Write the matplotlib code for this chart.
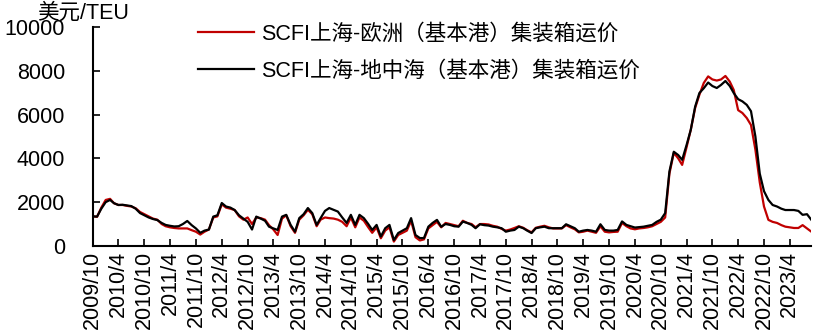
import numpy as np
import pandas as pd
import matplotlib.pyplot as plt
import matplotlib.dates as mdates

plt.rcParams['font.family'] = ['Liberation Sans', 'Noto Sans CJK SC', 'DejaVu Sans']

# 月度数据，2009/10 起
dates = pd.date_range('2009-10-01', periods=168, freq='MS')

europe = [
    1350, 1330, 1750, 2100, 2150, 1950, 1870, 1870, 1830, 1800,
    1720, 1550, 1450, 1350, 1250, 1200, 1000, 900, 850, 820,
    800, 800, 800, 720, 650, 520, 650, 750, 1300, 1350,
    1900, 1750, 1700, 1640, 1350, 1200, 1300, 1000, 1300, 1270,
    1200, 950, 750, 500, 1250, 1400, 900, 600, 1200, 1400,
    1650, 1450, 900, 1200, 1300, 1270, 1250, 1200, 1100, 900,
    1300, 850, 1300, 1150, 850, 600, 850, 350, 700, 850,
    200, 500, 600, 700, 1150, 400, 250, 300, 800, 950,
    1100, 850, 1050, 1000, 950, 900, 1150, 1050, 1000, 850,
    1000, 1000, 980, 920, 880, 780, 700, 750, 820, 900,
    830, 720, 620, 830, 880, 920, 850, 800, 800, 800,
    950, 850, 760, 620, 650, 700, 650, 600, 900, 650,
    620, 640, 650, 1050, 900, 800, 760, 800, 820, 850,
    900, 1000, 1100, 1300, 3300, 4250, 4000, 3700, 4500, 5300,
    6300, 6900, 7440, 7740, 7600, 7550, 7600, 7760, 7500, 7120,
    6200, 6070, 5840, 5520, 4400, 2900, 1800, 1190, 1100, 1050,
    950, 880, 850, 820, 820, 950, 800, 650,
]

mediterranean = [
    1350, 1340, 1700, 2000, 2100, 1950, 1870, 1880, 1850, 1820,
    1700, 1500, 1400, 1300, 1230, 1180, 1050, 960, 920, 890,
    900, 1000, 1140, 950, 800, 600, 700, 750, 1340, 1400,
    1960, 1800, 1750, 1640, 1400, 1250, 1100, 750, 1340, 1250,
    1150, 880, 800, 730, 1340, 1420, 960, 650, 1270, 1450,
    1730, 1500, 960, 1270, 1600, 1730, 1650, 1570, 1300, 1050,
    1420, 960, 1420, 1270, 1000, 730, 960, 430, 810, 960,
    270, 590, 700, 810, 1270, 500, 360, 360, 880, 1050,
    1190, 880, 1000, 960, 900, 880, 1110, 1050, 960, 810,
    990, 950, 930, 880, 850, 810, 650, 700, 730, 880,
    810, 700, 590, 810, 850, 880, 810, 810, 810, 810,
    990, 900, 810, 650, 700, 730, 700, 650, 990, 730,
    700, 700, 730, 1120, 960, 900, 840, 860, 880, 920,
    960, 1100, 1200, 1500, 3400, 4300, 4150, 3930, 4600, 5300,
    6360, 6980, 7200, 7460, 7300, 7210, 7350, 7530, 7300, 6980,
    6700, 6600, 6440, 6150, 5000, 3300, 2500, 2100, 1870, 1800,
    1700, 1640, 1640, 1640, 1600, 1420, 1450, 1190,
]

fig = plt.figure(figsize=(8.13, 3.36), dpi=100)
ax = fig.add_axes([0.114, 0.268, 0.884, 0.652])

ax.plot(dates, europe, color='#C00000', lw=1.6, label='SCFI上海-欧洲（基本港）集装箱运价')
ax.plot(dates, mediterranean, color='black', lw=1.6, label='SCFI上海-地中海（基本港）集装箱运价')

ax.set_ylim(0, 10000)
ax.set_yticks(np.arange(0, 10001, 2000))
ax.set_xlim(dates[0], dates[-1])

ticks = pd.date_range('2009-10-01', '2023-04-01', freq='6MS')
ax.set_xticks(ticks)
ax.set_xticklabels([f'{d.year}/{d.month}' for d in ticks], rotation=90)

for s in ['top', 'right']:
    ax.spines[s].set_visible(False)
for s in ['left', 'bottom']:
    ax.spines[s].set_linewidth(1.5)
ax.tick_params(axis='both', direction='in', length=5, width=1.2, labelsize=15.5)
ax.tick_params(axis='y', pad=20)

fig.text(0.045, 0.96, '美元/TEU', fontsize=15.5, va='center')

ax.legend(loc='upper left', bbox_to_anchor=(0.12, 1.105), frameon=False,
          fontsize=15.5, handlelength=2.6, handletextpad=0.3, labelspacing=0.75)

fig.savefig('out.png', dpi=100)
